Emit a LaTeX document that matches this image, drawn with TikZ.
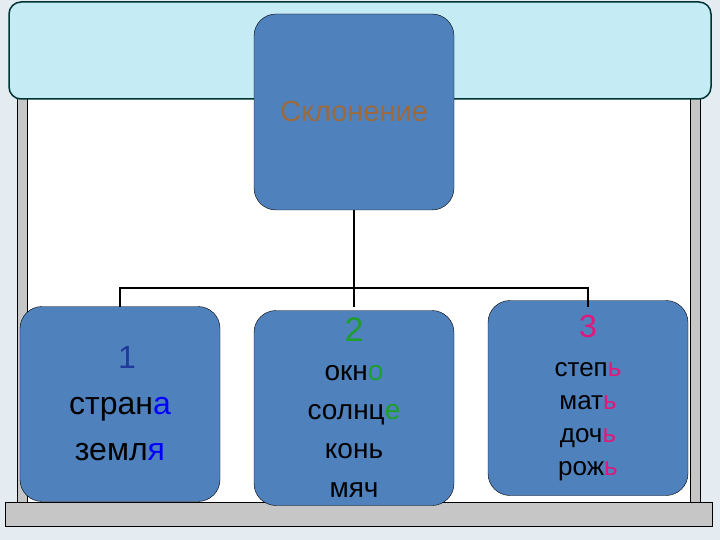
\documentclass[tikz,border=0pt]{standalone}
\usepackage{fontspec}
\setmainfont{Liberation Sans}
\usepackage{xcolor}
\usetikzlibrary{positioning}
\definecolor{slidebg}{HTML}{E4EBF1}
\definecolor{banner}{HTML}{C5EBF5}
\definecolor{boxblue}{HTML}{4F81BD}
\definecolor{brn}{HTML}{9C6A3C}
\definecolor{grn}{HTML}{1E9E2A}
\definecolor{pnk}{HTML}{E0197A}
\definecolor{dblue}{HTML}{1F3A9A}
\tikzset{box/.style={rectangle,rounded corners=22pt,draw=black,fill=boxblue,minimum width=200pt,minimum height=195pt,align=center}}
\tikzset{bar/.style={draw=black,fill=gray!45}}
\begin{document}
\begin{tikzpicture}[x=1pt,y=-1pt]
        \fill[slidebg] (0,0) rectangle (720,540);
        \useasboundingbox (0,0) rectangle (720,540);
        \fill[white] (17,95) rectangle (700,505);
        \draw[bar] (17,95) rectangle (27,505);
        \draw[bar] (690,95) rectangle (700,505);
        \draw[bar] (5,502) rectangle (712,526);
        \draw[draw=black!60!teal,line width=1.5pt,fill=banner,rounded corners=12pt] (9,2) rectangle (711,99);

		\node[box,minimum height=196pt] (top) at (354,112) {\fontsize{29}{30}\selectfont\color{brn}Склонение};
        \node[box,font=\fontsize{32}{46}\selectfont] (b1) at (120,404) {\hspace*{14pt}\color{dblue}1\\стран{\color{blue}а}\\земл{\color{blue}я}};
        \node[box,font=\fontsize{28}{39}\selectfont] (b2) at (354,408) {{\fontsize{34}{36}\selectfont\color{grn}2}\\окн{\color{grn}о}\\солнц{\color{grn}е}\\конь\\мяч};
        \node[box,font=\fontsize{26}{33}\selectfont] (b3) at (588,398) {{\fontsize{32}{36}\selectfont\color{pnk}3}\\[6pt]степ{\color{pnk}ь}\\мат{\color{pnk}ь}\\доч{\color{pnk}ь}\\рож{\color{pnk}ь}};
        \coordinate (j) at (354,288);

        \draw[line width=1.2pt] (top.south) -- (j);
        \draw[line width=1.2pt] (120,307) |- (j) -| (588,307);
        \draw[line width=1.2pt] (j) -- (354,307);
\end{tikzpicture}
\end{document}
